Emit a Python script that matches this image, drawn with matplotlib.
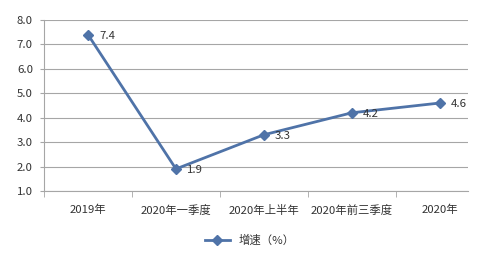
import matplotlib
matplotlib.use("Agg")
import matplotlib.pyplot as plt
import numpy as np

plt.rcParams['font.family'] = ['Noto Sans CJK SC', 'DejaVu Sans']

categories = ['2019年', '2020年一季度', '2020年上半年', '2020年前三季度', '2020年']
growth = [7.4, 1.9, 3.3, 4.2, 4.6]
series_name = '增速（%）'

line_color = '#4F73A8'
text_color = '#333333'
grid_color = '#A6A6A6'

fig = plt.figure(figsize=(5.0, 2.58), dpi=100)
ax = fig.add_axes([0.088, 0.26, 0.848, 0.6625])

x = np.arange(len(categories))
ax.plot(x, growth, color=line_color, lw=2, marker='D', markersize=5,
        label=series_name)
for xi, v in zip(x, growth):
    ax.annotate(f'{v:.1f}', (xi, v), xytext=(8, -1), textcoords='offset points',
                va='center', ha='left', fontsize=8.2, color=text_color)

ax.set_xlim(-0.5, 4.32)
ax.set_ylim(1.0, 8.0)
ax.set_yticks(np.arange(1, 9, 1))
ax.set_yticklabels([f'{v:.1f}' for v in range(1, 9)])
ax.set_xticks(x)
ax.set_xticklabels(categories)
ax.set_xticks(np.arange(-0.5, 4.5, 1), minor=True)

ax.grid(axis='y', color=grid_color, lw=0.8)
ax.set_axisbelow(True)
for s in ['top', 'right']:
    ax.spines[s].set_visible(False)
for s in ['left', 'bottom']:
    ax.spines[s].set_color(grid_color)
    ax.spines[s].set_linewidth(0.8)

ax.tick_params(axis='x', which='major', length=0, pad=10, labelsize=8.2,
               colors=text_color)
ax.tick_params(axis='x', which='minor', length=4, color=grid_color)
ax.tick_params(axis='y', length=3, color=grid_color, labelsize=8.2,
               colors=text_color, pad=5)

fig.legend(loc='center', bbox_to_anchor=(0.50, 0.07), frameon=False,
           fontsize=8.2, handlelength=2.2, labelcolor=text_color)

fig.savefig('out.png', dpi=100)
